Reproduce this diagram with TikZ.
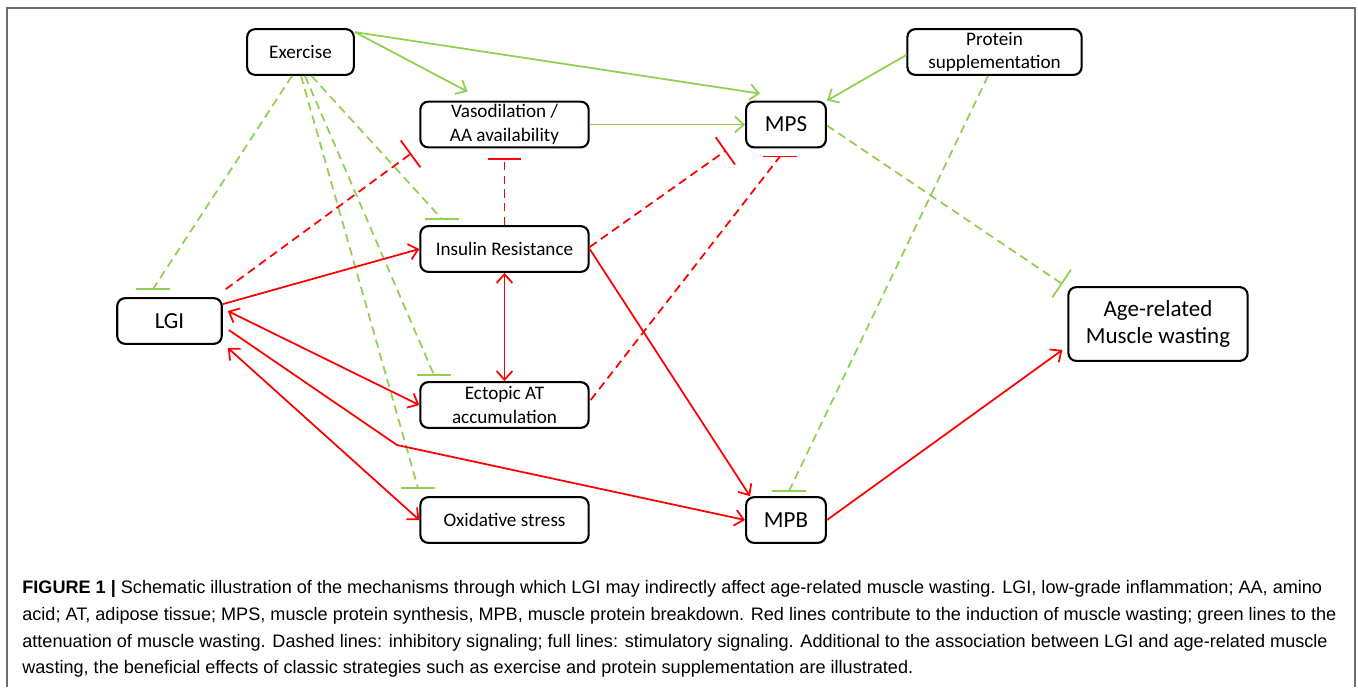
\documentclass[tikz,border=0pt]{standalone}
\usepackage{fontspec}
\setmainfont{Carlito}
\newfontfamily\capfont{Liberation Sans}
\usepackage{tikz}
\usetikzlibrary{arrows.meta, calc}
\definecolor{mygreen}{RGB}{146,208,80}
\definecolor{myred}{RGB}{255,0,0}
\definecolor{mygray}{RGB}{110,110,110}
% horizontal end bar of an inhibitory line
\newcommand{\flatbar}[2]{\draw[#1,line width=1pt] ($(#2)+(-17,0)$)--($(#2)+(17,0)$);}

\begin{document}
\begin{tikzpicture}[x=0.02cm,y=-0.02cm,
    box/.style={draw,rounded corners=4.5pt,line width=1.2pt,inner sep=0pt,minimum height=26pt,align=center,font=\fontsize{10.9}{13.6}\selectfont},
    bigbox/.style={box,font=\fontsize{13.1}{15.3}\selectfont},
    stim/.style={line width=1pt,-{Straight Barb[length=5pt,width=9pt]}},
    both/.style={line width=1pt,{Straight Barb[length=5pt,width=9pt]}-{Straight Barb[length=5pt,width=9pt]}},
    inhib/.style={line width=1pt,dash pattern=on 4.8pt off 3pt},
    block/.style={inhib,-{Bar[width=19pt,line width=1pt]}},
    capline/.style={anchor=base west,inner sep=0pt,font=\capfont\fontsize{10.3}{12}\selectfont}]
  \useasboundingbox (0,0) rectangle (1358,687);
  \draw[mygray,line width=1.1pt] (7,687)--(7,8)--(1355,8)--(1355,687);

  \node[box,minimum width=60.7pt] (exer) at (300.5,52) {Exercise};
  \node[box,minimum width=95.8pt] (vaso) at (504.5,124.5) {Vasodilation /\\AA availability};
  \node[bigbox,minimum width=45.4pt] (mps) at (786,124.5) {MPS};
  \node[box,minimum width=99.2pt] (prot) at (994.5,52) {Protein\\supplementation};
  \node[box,minimum width=95.8pt] (ir) at (504.5,249) {Insulin Resistance};
  \node[bigbox,minimum width=59.5pt] (lgi) at (169.5,321) {LGI};
  \node[box,minimum width=95.8pt] (ect) at (504.5,405) {Ectopic AT\\accumulation};
  \node[box,minimum width=95.8pt] (ox) at (504.5,520) {Oxidative stress};
  \node[bigbox,minimum width=45.4pt] (mpb) at (786,520) {MPB};
  \node[bigbox,minimum width=102pt,minimum height=42pt] (age) at (1158,324) {Age-related\\Muscle wasting};

  % exercise and protein
  \draw[stim,mygreen] ($(exer.north east)+(0,4)$)--($(vaso.north)+(-37,-9)$);
  \draw[stim,mygreen] ($(exer.north east)+(0,4)$)--($(mps.north)+(-26,-7)$);
  \draw[stim,mygreen] (vaso.east)--(mps.west);
  \draw[stim,mygreen] ($(prot.west)+(0,3)$)--(mps.north east);
  \coordinate (bLgi) at ($(lgi.north)+(-16.5,-8)$);
  \coordinate (bIr) at ($(ir.north)+(-62.5,-6)$);
  \coordinate (bEct) at ($(ect.north)+(-70.5,-6)$);
  \coordinate (bOx) at ($(ox.north)+(-86.5,-8)$);
  \coordinate (bMpb) at ($(mpb.north)+(3,-5)$);
  \draw[inhib,mygreen] ($(exer.south)+(-8.5,0)$)--(bLgi);
  \draw[inhib,mygreen] ($(exer.south)+(11,0)$)--(bIr);
  \draw[inhib,mygreen] ($(exer.south)+(4.5,0)$)--(bEct);
  \draw[inhib,mygreen] ($(exer.south)+(0.5,0)$)--(bOx);
  \draw[inhib,mygreen] ($(prot.south)+(-6.5,0)$)--(bMpb);
  \flatbar{mygreen}{bLgi}
  \flatbar{mygreen}{bIr}
  \flatbar{mygreen}{bEct}
  \flatbar{mygreen}{bOx}
  \flatbar{mygreen}{bMpb}
  \draw[block,mygreen] ($(mps.east)+(0,1)$)--($(age.north west)+(-5,-2)$);

  % LGI pathways
  \draw[stim,myred] ($(lgi.north east)+(0,7)$)--(ir.west);
  \draw[both,myred] ($(lgi.east)+(5,-10)$)--(ect.west);
  \draw[both,myred] ($(lgi.south east)+(5,3)$)--(ox.west);
  \coordinate (kink) at (397,445);
  \draw[stim,myred] ($(lgi.east)+(6,9)$)--(kink)--(mpb.west);
  \draw[both,myred] (ir.south)--(ect.north);
  \draw[stim,myred] (ir.east)--($(mpb.north west)+(5,0)$);
  \draw[stim,myred] (mpb.east)--($(age.south west)+(-5,-12)$);
  \draw[block,myred] ($(lgi.north east)+(3,-8)$)--($(vaso.south west)+(-8,5)$);
  \draw[block,myred] (ir.north)--($(vaso.south)+(0,10)$);
  \draw[block,myred] ($(ir.east)+(0,-2)$)--($(mps.south west)+(-19,2)$);
  \coordinate (bMps) at ($(mps.south)+(-6,8)$);
  \draw[inhib,myred] ($(ect.east)+(1,-5)$)--(bMps);
  \flatbar{myred}{bMps}

  \node[capline] (cap1) at (22,593) {\textbf{FIGURE 1 |} Schematic illustration of the mechanisms through which LGI may indirectly affect age-related muscle wasting. LGI, low-grade inflammation; AA, amino};
  \node[capline] (cap2) at (22,620) {acid; AT, adipose tissue; MPS, muscle protein synthesis, MPB, muscle protein breakdown. Red lines contribute to the induction of muscle wasting; green lines to the};
  \node[capline] (cap3) at (22,647) {attenuation of muscle wasting. Dashed lines: inhibitory signaling; full lines: stimulatory signaling. Additional to the association between LGI and age-related muscle};
  \node[capline] (cap4) at (22,673) {wasting, the beneficial effects of classic strategies such as exercise and protein supplementation are illustrated.};
\end{tikzpicture}
\end{document}
